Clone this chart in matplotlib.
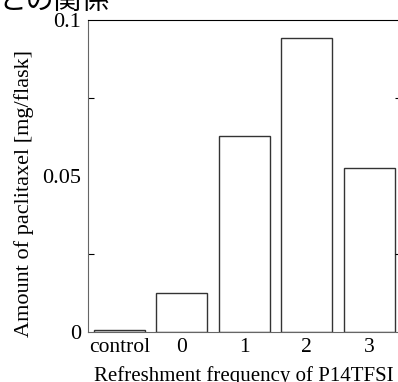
import matplotlib
matplotlib.use("Agg")
import matplotlib.pyplot as plt
from matplotlib.ticker import MultipleLocator

# data
categories = ['control', '0', '1', '2', '3']
amounts = [0.0005, 0.0126, 0.0628, 0.0941, 0.0526]   # mg/flask


def main():
    plt.rcParams['font.family'] = ['Liberation Serif', 'Noto Sans CJK JP']

    fig = plt.figure(figsize=(3.98, 3.82), dpi=100)
    ax = fig.add_axes([88 / 398, 1 - 332 / 382, 312.5 / 398, 312 / 382])

    x = range(len(categories))
    ax.bar(x, amounts, width=0.82, color='white', edgecolor='#333333', linewidth=1.0)

    ax.set_xlim(-0.5, 4.5)
    ax.set_ylim(0, 0.1)
    ax.set_xticks(list(x))
    ax.set_xticklabels(categories)
    ax.set_yticks([0, 0.05, 0.1])
    ax.set_yticklabels(['0', '0.05', '0.1'])
    ax.yaxis.set_minor_locator(MultipleLocator(0.025))
    ax.tick_params(axis='x', length=0, labelsize=15.5, pad=4)
    ax.tick_params(axis='y', which='both', direction='in', labelsize=16, pad=5)
    ax.tick_params(axis='y', which='major', length=0)
    ax.tick_params(axis='y', which='minor', length=4, width=0.8, right=True)

    for s in ['left', 'bottom']:
        ax.spines[s].set_color('#666666')
    ax.spines['top'].set_color('black')

    ax.set_xlabel('Refreshment frequency of P14TFSI', fontsize=15)
    ax.xaxis.set_label_coords(0.5, -0.108)
    ax.set_ylabel('Amount of paclitaxel [mg/flask]', fontsize=16)
    ax.yaxis.set_label_coords(-0.174, 0.444)

    # caption cut off at the top of the image
    fig.text(-0.005, 1 - 9 / 382, 'との関係', fontsize=20, ha='left', va='baseline')

    fig.savefig('out.png', dpi=100)


if __name__ == "__main__":
    main()
